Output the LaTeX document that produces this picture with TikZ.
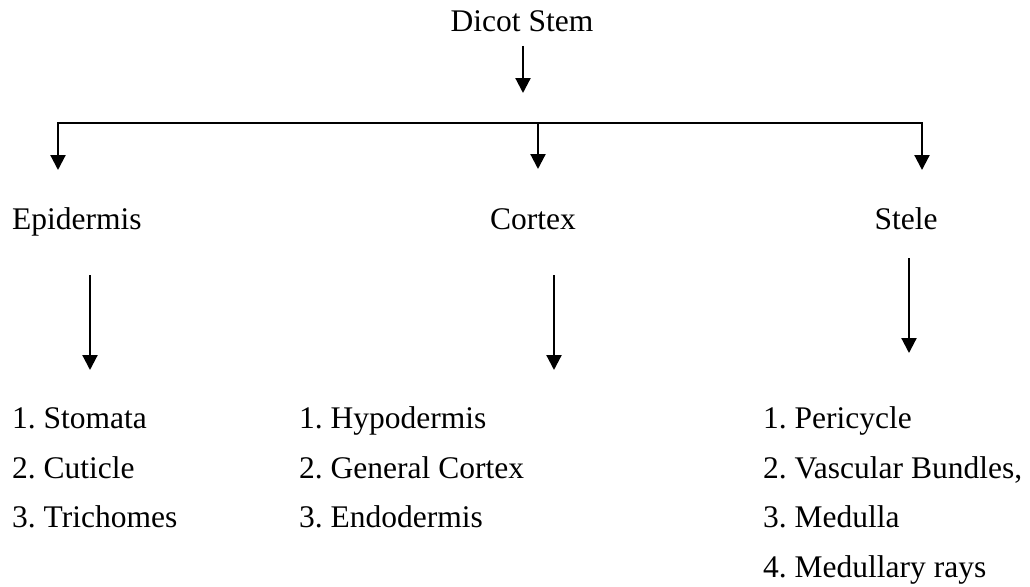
\documentclass[tikz,border=0pt]{standalone}
\usepackage{fontspec}
\setmainfont{Liberation Serif}
\usetikzlibrary{arrows.meta}
\frenchspacing
\begin{document}
\begin{tikzpicture}[x=1pt,y=-1pt,
  lbl/.style={inner sep=0pt,font=\fontsize{31.5}{38}\selectfont},
  arr/.style={line width=2.2pt,-{Triangle[width=15pt,length=15pt]}},
  barline/.style={line width=2.2pt,line join=miter,
    {Triangle[width=15pt,length=15pt]}-{Triangle[width=15pt,length=15pt]}}]
  \useasboundingbox (0,0) rectangle (1030,586);

  % root
  \node[lbl,anchor=base] (root) at (522,32) {Dicot Stem};

  % second level
  \node[lbl,anchor=base west] (epi) at (12,229) {Epidermis};
  \node[lbl,anchor=base] (cor) at (533,229) {Cortex};
  \node[lbl,anchor=base] (ste) at (906,229) {Stele};

  % epidermis parts
  \node[lbl,anchor=base west] (e1) at (12,428) {1. Stomata};
  \node[lbl,anchor=base west] (e2) at (12,478) {2. Cuticle};
  \node[lbl,anchor=base west] (e3) at (12,527) {3. Trichomes};

  % cortex parts
  \node[lbl,anchor=base west] (c1) at (299,428) {1. Hypodermis};
  \node[lbl,anchor=base west] (c2) at (299,478) {2. General Cortex};
  \node[lbl,anchor=base west] (c3) at (299,527) {3. Endodermis};

  % stele parts
  \node[lbl,anchor=base west] (s1) at (763,428) {1. Pericycle};
  \node[lbl,anchor=base west] (s2) at (763,478) {2. Vascular Bundles,};
  \node[lbl,anchor=base west] (s3) at (763,527) {3. Medulla};
  \node[lbl,anchor=base west] (s4) at (763,577) {4. Medullary rays};

  % connector points
  \coordinate (rootTop) at (523,46);
  \coordinate (rootTip) at (523,93);
  \coordinate (barL) at (58,170);
  \coordinate (barM) at (538,123);
  \coordinate (barR) at (922,170);
  \coordinate (midTip) at (538,169);
  \coordinate (epiTop) at (90,275);
  \coordinate (epiTip) at (90,370);
  \coordinate (corTop) at (554,275);
  \coordinate (corTip) at (554,370);
  \coordinate (steTop) at (909,258);
  \coordinate (steTip) at (909,353);

  % connectors
  \draw[arr] (rootTop) -- (rootTip);
  \draw[barline] (barL) |- (barM) -| (barR);
  \draw[arr] (barM) -- (midTip);
  \draw[arr] (epiTop) -- (epiTip);
  \draw[arr] (corTop) -- (corTip);
  \draw[arr] (steTop) -- (steTip);
\end{tikzpicture}
\end{document}
